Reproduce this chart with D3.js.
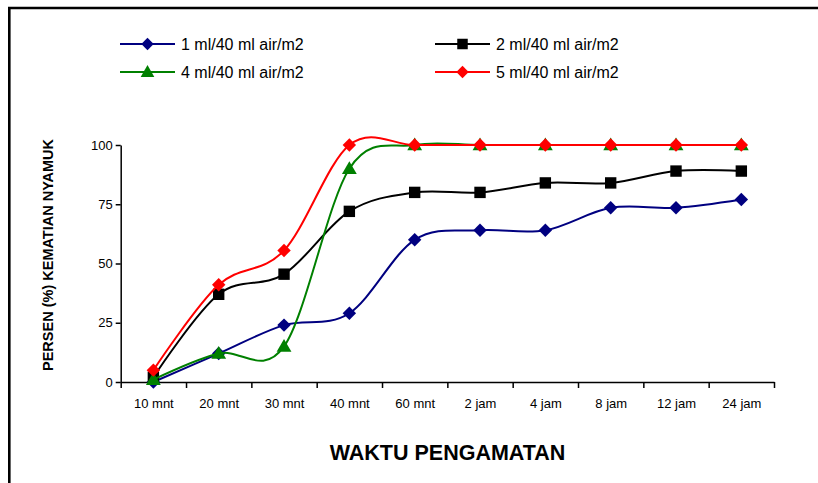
<!DOCTYPE html>
<html><head><meta charset="utf-8">
<script src="https://cdn.jsdelivr.net/npm/d3@7"></script>
<style>
body{margin:0;background:#fff;}
svg{display:block;font-family:"Liberation Sans",Arial,sans-serif;}
</style></head>
<body>
<svg id="c" width="818" height="483"></svg>
<script>
const categories = ["10 mnt","20 mnt","30 mnt","40 mnt","60 mnt","2 jam","4 jam","8 jam","12 jam","24 jam"];
const s1 = [0, 12, 24, 29, 60, 64, 64, 73.5, 73.5, 77];
const s2 = [2, 37, 45.5, 72, 80, 80, 84, 84, 89, 89];
const s4 = [1, 12, 15, 90, 100, 100, 100, 100, 100, 100];
const s5 = [5, 41, 55.5, 100, 100, 100, 100, 100, 100, 100];
const seriesNames = ["1 ml/40 ml air/m2","2 ml/40 ml air/m2","4 ml/40 ml air/m2","5 ml/40 ml air/m2"];
const yTicks = [0, 25, 50, 75, 100];
const xTitle = "WAKTU PENGAMATAN";
const yTitle = "PERSEN (%) KEMATIAN NYAMUK";

const series = [
  {name: seriesNames[0], values: s1, color: "#000080", marker: "diamond"},
  {name: seriesNames[1], values: s2, color: "#000000", marker: "square"},
  {name: seriesNames[2], values: s4, color: "#008000", marker: "triangle"},
  {name: seriesNames[3], values: s5, color: "#ff0000", marker: "diamond"}
];

const svg = d3.select("#c");
const x0 = 120.7, x1 = 774, yTop = 145, yBot = 382;

// outer frame (left and top visible)
svg.append("path").attr("d", `M9.3,495 V8 H830`).attr("fill","none")
  .attr("stroke","#000").attr("stroke-width",2.6);

const xIdx = d3.scaleLinear().domain([0, categories.length]).range([x0, x1]);
const xPt = d3.scalePoint().domain(categories).range([x0, x1]).padding(0.5);
const y = d3.scaleLinear().domain([0, 100]).range([yBot, yTop]);

// x axis ticks at band boundaries
const gx = svg.append("g").attr("transform", `translate(0,${yBot})`)
  .call(d3.axisBottom(xIdx).tickValues(d3.range(categories.length + 1)).tickFormat("").tickSize(6).tickSizeOuter(0));
gx.selectAll("path,line").attr("stroke","#000").attr("stroke-width",1.5);

// x labels
const gxl = svg.append("g").attr("transform", `translate(0,${yBot})`)
  .call(d3.axisBottom(xPt).tickSize(0).tickPadding(17));
gxl.select(".domain").remove();
gxl.selectAll("text").attr("font-size","13px").attr("fill","#000")
  .attr("font-family","'Liberation Sans',Arial,sans-serif");

// y axis
const gy = svg.append("g").attr("transform", `translate(${x0},0)`)
  .call(d3.axisLeft(y).tickValues(yTicks).tickSize(5).tickSizeOuter(0).tickPadding(3));
gy.selectAll("path,line").attr("stroke","#000").attr("stroke-width",1.5);
gy.selectAll("text").attr("font-size","13px").attr("fill","#000")
  .attr("font-family","'Liberation Sans',Arial,sans-serif");

// titles
svg.append("text").attr("x", 447.5).attr("y", 460).attr("text-anchor","middle")
  .attr("font-size","21.5px").attr("font-weight","bold").text(xTitle);
svg.append("text").attr("transform","translate(53,255) rotate(-90)").attr("text-anchor","middle")
  .attr("font-size","14.5px").attr("font-weight","bold").text(yTitle);

function symbolFor(m, big) {
  const s = big ? 1 : 0.85;
  if (m === "diamond") return d3.symbol().type(d3.symbolDiamond2).size(115 * s)();
  if (m === "square") return d3.symbol().type(d3.symbolSquare).size(130 * s)();
  return d3.symbol().type(d3.symbolTriangle).size(95 * s)();
}

const line = d3.line().x((d, i) => xPt(categories[i])).y(d => y(d)).curve(d3.curveCatmullRom.alpha(0));

series.forEach(s => {
  const g = svg.append("g");
  g.append("path").attr("d", line(s.values)).attr("fill","none")
    .attr("stroke", s.color).attr("stroke-width", 2);
  g.selectAll("path.m").data(s.values).enter().append("path").attr("class","m")
    .attr("d", symbolFor(s.marker, true))
    .attr("transform", (d, i) => `translate(${xPt(categories[i])},${y(d) + (s.marker==="triangle"?1:0)})`)
    .attr("fill", s.color);
});

// legend
const legPos = [[120, 44], [435, 44], [120, 72], [435, 72]];
series.forEach((s, i) => {
  const [lx, ly] = legPos[i];
  const g = svg.append("g").attr("transform", `translate(${lx},${ly})`);
  g.append("line").attr("x1", 0).attr("x2", 55).attr("stroke", s.color).attr("stroke-width", 2);
  g.append("path").attr("d", symbolFor(s.marker, false)).attr("transform", `translate(27.5,${s.marker==="triangle"?1:0})`).attr("fill", s.color);
  g.append("text").attr("x", 61).attr("y", 6).attr("font-size","16px").attr("fill","#000").text(s.name);
});
</script>
</body></html>
